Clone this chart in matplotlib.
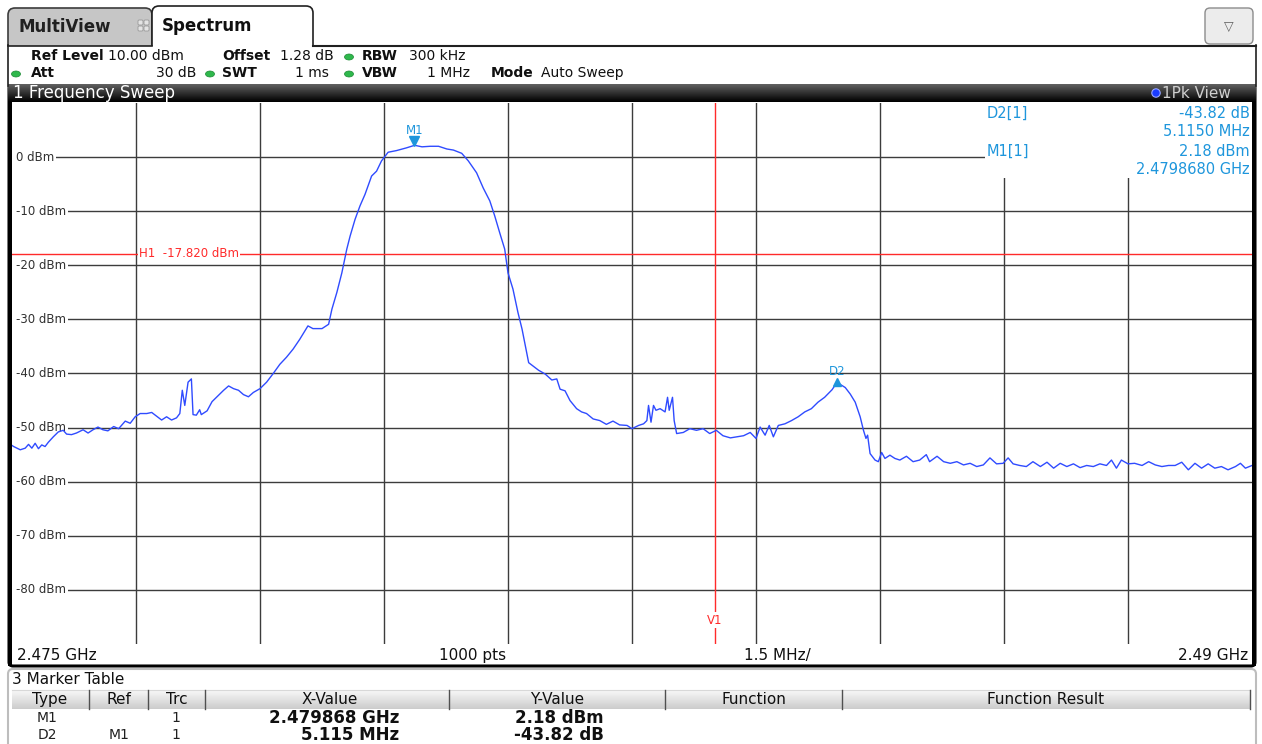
import matplotlib
matplotlib.use('Agg')
import matplotlib.pyplot as plt
import matplotlib.transforms as mtransforms
from matplotlib.patches import Rectangle, FancyBboxPatch, Ellipse, Circle
import numpy as np

# sweep settings
f_start = 2.475   # GHz
f_stop = 2.490
y_top = 10.0
y_bottom = -90.0
y_ticks = [0, -10, -20, -30, -40, -50, -60, -70, -80]
x_divs = 10

# trace: offset from f_start in MHz, level in dBm
offset_mhz = [
    0.00, 0.02, 0.10, 0.16, 0.20, 0.24, 0.28, 0.32, 0.36, 0.40,
    0.44, 0.50, 0.56, 0.62, 0.66, 0.72, 0.78, 0.86, 0.92, 0.98,
    1.04, 1.10, 1.16, 1.23, 1.29, 1.37, 1.43, 1.49, 1.55, 1.63,
    1.69, 1.75, 1.81, 1.87, 1.93, 1.99, 2.03, 2.06, 2.09, 2.13,
    2.17, 2.19, 2.23, 2.27, 2.29, 2.36, 2.42, 2.50, 2.56, 2.62,
    2.68, 2.74, 2.80, 2.86, 2.92, 3.00, 3.08, 3.16, 3.24, 3.32,
    3.40, 3.48, 3.58, 3.64, 3.75, 3.83, 3.87, 3.93, 3.99, 4.05,
    4.09, 4.15, 4.21, 4.27, 4.35, 4.41, 4.47, 4.55, 4.65, 4.77,
    4.87, 4.96, 5.06, 5.16, 5.26, 5.34, 5.44, 5.52, 5.62, 5.70,
    5.78, 5.84, 5.90, 5.96, 6.00, 6.06, 6.12, 6.17, 6.21, 6.25,
    6.31, 6.37, 6.45, 6.53, 6.59, 6.63, 6.69, 6.75, 6.83, 6.89,
    6.95, 7.03, 7.11, 7.19, 7.27, 7.35, 7.44, 7.50, 7.58, 7.64,
    7.68, 7.70, 7.73, 7.76, 7.79, 7.84, 7.90, 7.93, 7.95, 7.99,
    8.01, 8.04, 8.12, 8.20, 8.28, 8.36, 8.44, 8.52, 8.60, 8.69,
    8.77, 8.85, 8.93, 9.00, 9.05, 9.11, 9.16, 9.21, 9.27, 9.35,
    9.43, 9.51, 9.59, 9.67, 9.75, 9.83, 9.92, 9.98, 10.08, 10.14,
    10.20, 10.26, 10.30, 10.33, 10.35, 10.38, 10.44, 10.48, 10.52, 10.56,
    10.62, 10.68, 10.74, 10.82, 10.90, 10.98, 11.06, 11.10, 11.19, 11.27,
    11.35, 11.43, 11.51, 11.59, 11.67, 11.75, 11.83, 11.91, 11.99, 12.05,
    12.11, 12.19, 12.27, 12.35, 12.44, 12.52, 12.60, 12.68, 12.76, 12.84,
    12.92, 13.00, 13.08, 13.16, 13.24, 13.30, 13.36, 13.42, 13.50, 13.58,
    13.67, 13.75, 13.83, 13.91, 13.99, 14.07, 14.15, 14.23, 14.31, 14.39,
    14.47, 14.55, 14.63, 14.71, 14.80, 14.86, 14.92, 15.00,
]
level_dbm = [
    -53.3, -53.5, -54.1, -53.8, -53.1, -53.8, -52.9, -53.9, -53.2, -53.5,
    -52.7, -51.7, -50.8, -50.5, -51.2, -51.3, -51.0, -50.4, -51.0, -50.4,
    -49.9, -50.4, -50.6, -49.8, -50.2, -48.8, -49.2, -48.0, -47.4, -47.4,
    -47.2, -47.9, -48.6, -48.0, -48.6, -48.2, -47.4, -43.1, -45.9, -41.6,
    -41.0, -47.6, -47.7, -46.7, -47.6, -46.9, -45.2, -44.0, -43.1, -42.3,
    -42.8, -43.1, -43.9, -44.3, -43.5, -42.8, -41.6, -40.0, -38.3, -37.0,
    -35.5, -33.7, -31.2, -31.7, -31.7, -30.9, -28.1, -25.0, -21.4, -17.0,
    -14.6, -11.5, -9.0, -6.9, -3.5, -2.6, -0.7, 0.9, 1.2, 1.7,
    2.18, 1.9, 2.0, 2.0, 1.5, 1.3, 0.7, -0.7, -2.9, -5.7,
    -8.1, -10.9, -14.0, -17.0, -21.4, -24.4, -28.7, -31.8, -34.9, -38.0,
    -38.7, -39.4, -40.1, -41.2, -41.0, -42.9, -43.2, -45.0, -46.5, -47.1,
    -47.4, -48.4, -48.7, -49.4, -48.8, -49.5, -49.6, -50.2, -49.6, -49.3,
    -48.7, -45.9, -49.0, -45.9, -46.8, -46.5, -47.1, -44.4, -46.8, -44.4,
    -48.7, -51.1, -50.9, -50.2, -50.5, -50.2, -51.1, -50.5, -51.5, -51.9,
    -51.7, -51.5, -50.9, -52.0, -49.9, -51.4, -49.6, -51.7, -49.6, -49.3,
    -48.7, -48.0, -47.1, -46.5, -45.3, -44.4, -43.0, -41.64, -42.6, -43.8,
    -45.3, -48.0, -50.5, -52.0, -51.4, -54.8, -56.0, -56.3, -54.6, -55.7,
    -55.1, -55.7, -56.0, -55.3, -56.3, -56.0, -55.0, -56.3, -55.3, -56.3,
    -56.6, -56.3, -56.9, -56.6, -57.2, -56.9, -55.6, -56.7, -56.6, -55.6,
    -56.7, -57.0, -57.2, -56.3, -57.2, -56.4, -57.5, -56.6, -57.2, -56.7,
    -57.4, -57.0, -57.2, -56.7, -57.0, -56.0, -57.5, -56.0, -56.7, -56.6,
    -57.0, -56.3, -56.9, -57.2, -57.0, -57.0, -56.4, -57.8, -56.6, -57.5,
    -56.7, -57.5, -57.2, -57.8, -57.2, -56.6, -57.5, -57.0,
]
assert len(offset_mhz) == len(level_dbm)

# markers and lines
m1_freq = 2.479868
m1_level = 2.18
d2_delta_mhz = 5.115
d2_delta_db = -43.82
h1_level = -17.82
v1_freq = 2.4835

# marker table rows
tbl_type = ['M1', 'D2']
tbl_ref = ['', 'M1']
tbl_trc = ['1', '1']
tbl_x = ['2.479868 GHz', '5.115 MHz']
tbl_y = ['2.18 dBm', '-43.82 dB']

freq_ghz = [f_start + o / 1000 for o in offset_mhz]
d2_freq = m1_freq + d2_delta_mhz / 1000
d2_level = m1_level + d2_delta_db

plt.rcParams['font.family'] = ['DejaVu Sans']
MK = '#1e96dc'
RED = '#ff2a2a'

W, H = 1262, 744
fig = plt.figure(figsize=(W / 100, H / 100), dpi=100)
fig.patch.set_facecolor('white')

# full-figure axes in pixel coords (origin top-left) for the instrument UI
ui = fig.add_axes([0, 0, 1, 1])
ui.set_xlim(0, W)
ui.set_ylim(H, 0)
ui.axis('off')
ui.set_autoscale_on(False)
P = ui.transData


def grad(x0, x1, y0, y1, top, bot, z=1):
    g = np.linspace(top, bot, 40)[:, None]
    ui.imshow(g, extent=(x0, x1, y1, y0), cmap='gray', vmin=0, vmax=1,
              aspect='auto', zorder=z, interpolation='bilinear')


# tabs
ui.add_patch(FancyBboxPatch((8, 8), 144, 48, boxstyle='round,pad=0,rounding_size=7',
                            fc='#c6c6c6', ec='#3c3c3c', lw=1.2, zorder=1))
ui.add_patch(FancyBboxPatch((152, 6), 161, 50, boxstyle='round,pad=0,rounding_size=7',
                            fc='white', ec='#202020', lw=1.2, zorder=2))
ui.add_patch(Rectangle((6, 46), 1252, 38, fc='white', ec='none', zorder=3))
ui.plot([8, 152], [45.5, 45.5], color='#202020', lw=1.2, zorder=4)
ui.plot([313, 1256], [45.5, 45.5], color='#202020', lw=1.5, zorder=4)
ui.plot([8, 8], [45, 86], color='#202020', lw=1.2, zorder=4)
ui.plot([1256, 1256], [45, 86], color='#202020', lw=1.2, zorder=4)
ui.text(19, 27, 'MultiView', fontsize=12, fontweight='bold', color='#202020', va='center', zorder=5)
ui.text(162, 26, 'Spectrum', fontsize=12, fontweight='bold', color='#101010', va='center', zorder=5)
for gx, gy in [(138, 20), (144, 20), (138, 26), (144, 26)]:
    ui.add_patch(FancyBboxPatch((gx, gy), 5, 5, boxstyle='round,pad=0,rounding_size=1.2',
                                fc='#e4e4e4', ec='#9a9a9a', lw=0.6, zorder=5))

# drop-down button
ui.add_patch(FancyBboxPatch((1205, 8), 48, 36, boxstyle='round,pad=0,rounding_size=5',
                            fc='#ececec', ec='#8c8c8c', lw=1, zorder=2))
ui.text(1229, 26, '\u25bd', fontsize=9, color='#606060', ha='center', va='center', zorder=5)


# settings header
def hdr(x, y, s, bold=False, ha='left'):
    ui.text(x, y, s, fontsize=10, fontweight='bold' if bold else 'normal',
            color='#101010', ha=ha, va='center', zorder=5)


def dot(x, y):
    ui.add_patch(Ellipse((x, y), 9, 6, fc='#2fb84c', ec='#1d8a35', lw=0.5, zorder=5))


hdr(31, 56, 'Ref Level', True)
hdr(108, 56, '10.00 dBm')
hdr(222, 56, 'Offset', True)
hdr(280, 56, '1.28 dB')
dot(349, 57)
hdr(362, 56, 'RBW', True)
hdr(409, 56, '300 kHz')
dot(16, 74)
hdr(31, 73, 'Att', True)
hdr(196, 73, '30 dB', ha='right')
dot(210, 74)
hdr(222, 73, 'SWT', True)
hdr(329, 73, '1 ms', ha='right')
dot(349, 74)
hdr(362, 73, 'VBW', True)
hdr(470, 73, '1 MHz', ha='right')
hdr(491, 73, 'Mode', True)
hdr(541, 73, 'Auto Sweep')

# frame around the diagram (left/right bars, rounded bottom)
ui.add_patch(FancyBboxPatch((9, 84), 1246, 582, boxstyle='round,pad=0,rounding_size=4',
                            fc='none', ec='black', lw=2.2, zorder=1))
ui.add_patch(Rectangle((8, 100), 4, 566, fc='black', ec='none', zorder=2))
ui.add_patch(Rectangle((1252, 100), 4, 566, fc='black', ec='none', zorder=2))

# window title bar
grad(8, 1256, 84, 102, 0.38, 0.0, z=2)
ui.text(13, 93, '1 Frequency Sweep', fontsize=12, color='white', va='center', zorder=5)
ui.add_patch(Circle((1156, 93), 4.2, fc='#1a3cff', ec='#9aa8ff', lw=0.8, zorder=5))
ui.text(1162, 93, '1Pk View', fontsize=11, color='#cfcfcf', va='center', zorder=5)

# bottom scale strip
ui.text(17, 655.5, '2.475 GHz', fontsize=11, color='#101010', va='center', zorder=5)
ui.text(473, 655.5, '1000 pts', fontsize=11, color='#101010', ha='center', va='center', zorder=5)
ui.text(777, 655.5, '1.5 MHz/', fontsize=11, color='#101010', ha='center', va='center', zorder=5)
ui.text(1248, 655.5, '2.49 GHz', fontsize=11, color='#101010', ha='right', va='center', zorder=5)

# marker table
ui.add_patch(FancyBboxPatch((8, 669), 1248, 90, boxstyle='round,pad=0,rounding_size=5',
                            fc='white', ec='#bdbdbd', lw=1.5, zorder=1))
ui.text(12, 680, '3 Marker Table', fontsize=11, color='#101010', va='center', zorder=5)
grad(12, 1250, 690, 709, 0.97, 0.80, z=2)
ui.plot([12, 1250], [690, 690], color='#d8d8d8', lw=0.8, zorder=3)
for xd in [89, 148, 205, 449, 665, 842, 1250]:
    ui.plot([xd, xd], [690, 709], color='#505050', lw=1, zorder=3)
for xc, s in [(50, 'Type'), (119, 'Ref'), (177, 'Trc'), (330, 'X-Value'),
              (557, 'Y-Value'), (754, 'Function'), (1046, 'Function Result')]:
    ui.text(xc, 699.5, s, fontsize=11, color='#101010', ha='center', va='center', zorder=5)
for i in range(len(tbl_type)):
    yr = 718 + 17 * i
    ui.text(47, yr, tbl_type[i], fontsize=10, color='#202020', ha='center', va='center', zorder=5)
    ui.text(119, yr, tbl_ref[i], fontsize=10, color='#202020', ha='center', va='center', zorder=5)
    ui.text(176, yr, tbl_trc[i], fontsize=10, color='#202020', ha='center', va='center', zorder=5)
    ui.text(399, yr, tbl_x[i], fontsize=12, fontweight='bold', color='#101010', ha='right', va='center', zorder=5)
    ui.text(604, yr, tbl_y[i], fontsize=12, fontweight='bold', color='#101010', ha='right', va='center', zorder=5)

ui.set_xlim(0, W)
ui.set_ylim(H, 0)

# diagram axes
ax = fig.add_axes([12 / W, (H - 644) / H, 1240 / W, 541 / H])
ax.set_xlim(f_start, f_stop)
ax.set_ylim(y_bottom, y_top)
ax.set_xticks([])
ax.set_yticks([])
for sp in ax.spines.values():
    sp.set_visible(False)
ax.set_facecolor('white')

GRID = '#3c3c3c'
for k in range(1, x_divs):
    ax.axvline(f_start + k * (f_stop - f_start) / x_divs, color=GRID, lw=1, zorder=1)
for v in y_ticks:
    ax.axhline(v, xmin=0.03, color=GRID, lw=1, zorder=1)

ylab = mtransforms.blended_transform_factory(P, ax.transData)
for v in y_ticks:
    ax.text(16, v, f'{v} dBm', transform=ylab, fontsize=8.5, color='#303030', va='center',
            zorder=2, bbox=dict(fc='white', ec='none', pad=1.5))

# blank area behind marker readout
ax.add_patch(Rectangle((985, 103), 270, 75, transform=P, fc='white', ec='none', zorder=2))
ax.text(987, 113, 'D2[1]', transform=P, fontsize=10.5, color=MK, va='center', zorder=6)
ax.text(1250, 113, '-43.82 dB', transform=P, fontsize=10.5, color=MK, ha='right', va='center', zorder=6)
ax.text(1250, 131, '5.1150 MHz', transform=P, fontsize=10.5, color=MK, ha='right', va='center', zorder=6)
ax.text(987, 151, 'M1[1]', transform=P, fontsize=10.5, color=MK, va='center', zorder=6)
ax.text(1250, 151, '2.18 dBm', transform=P, fontsize=10.5, color=MK, ha='right', va='center', zorder=6)
ax.text(1250, 169, '2.4798680 GHz', transform=P, fontsize=10.5, color=MK, ha='right', va='center', zorder=6)

# display line H1 and vertical line V1
ax.axhline(h1_level, color=RED, lw=1, zorder=3)
ax.text(139, h1_level, 'H1  -17.820 dBm', transform=ylab, fontsize=8.5, color=RED, va='center',
        zorder=3.5, bbox=dict(fc='white', ec='none', pad=0.8))
ax.axvline(v1_freq, color=RED, lw=1, zorder=3)
vlab = mtransforms.blended_transform_factory(ax.transData, P)
ax.text(v1_freq, 620, 'V1', transform=vlab, fontsize=8.5, color=RED, ha='center', va='center',
        zorder=3.5, bbox=dict(fc='white', ec='none', pad=0.8))

# trace
ax.plot(freq_ghz, level_dbm, color='#2f4bff', lw=1, zorder=4)

# markers
up = mtransforms.offset_copy(ax.transData, fig=fig, y=3, units='points')
ax.plot([m1_freq], [m1_level], marker='v', ms=7, color=MK, transform=up, zorder=5, clip_on=False)
ax.annotate('M1', (m1_freq, m1_level), xytext=(0, 11), textcoords='offset points',
            fontsize=8.5, color=MK, ha='center', va='center', zorder=6)
ax.plot([d2_freq], [d2_level], marker='^', ms=6, color=MK, zorder=5)
ax.annotate('D2', (d2_freq, d2_level), xytext=(0, 8), textcoords='offset points',
            fontsize=8.5, color=MK, ha='center', va='center', zorder=6)

fig.savefig('out.png', dpi=100)
